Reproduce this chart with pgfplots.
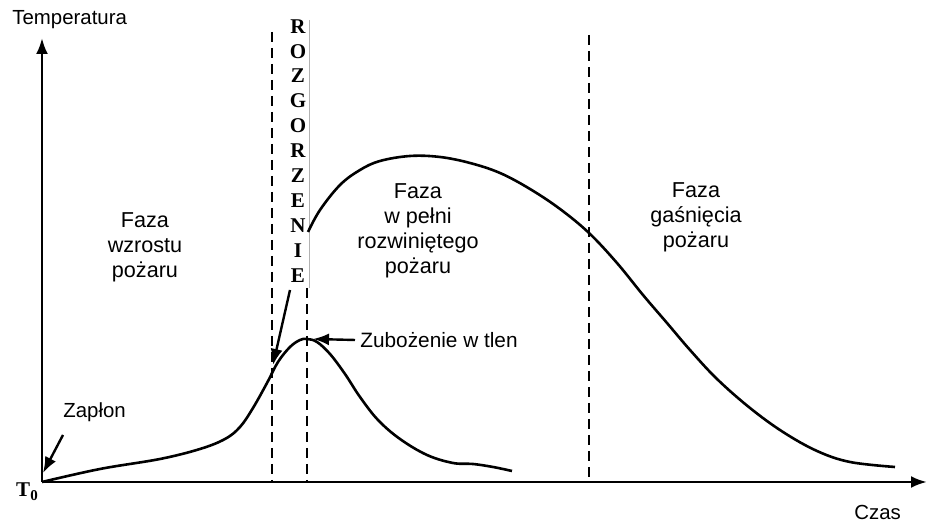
\documentclass[border=0pt]{standalone}
\usepackage{fontspec}
\setmainfont{Liberation Sans}
\newfontfamily\timesfont{Liberation Serif}
\usepackage{pgfplots}
\pgfplotsset{compat=1.18}
\usetikzlibrary{arrows.meta}

\begin{document}
\begin{tikzpicture}
\begin{axis}[
  scale only axis, width=464pt, height=261pt,
  xmin=0, xmax=928, ymin=0, ymax=522,
  hide axis, clip=false,
]
\coordinate (sw) at (axis cs:0,0);
\coordinate (ne) at (axis cs:928,522);

% time and temperature axes
\draw[line width=1.4pt, -{Latex[length=8pt,width=6pt]}] (axis cs:42,40) -- (axis cs:42,484);
\draw[line width=1.4pt, -{Latex[length=8pt,width=6pt]}] (axis cs:42,40) -- (axis cs:927,40);

% phase boundaries
\draw[line width=1pt, dash pattern=on 5pt off 3pt] (axis cs:272,490) -- (axis cs:272,40);
\draw[line width=1pt, dash pattern=on 5pt off 3pt] (axis cs:307,234) -- (axis cs:307,40);
\draw[line width=1pt, dash pattern=on 5pt off 3pt] (axis cs:589,487) -- (axis cs:589,40);
\draw[gray!60, line width=0.3pt] (axis cs:309,502) -- (axis cs:309,234);

% growth and oxygen-depletion curve
\addplot[black, line width=1.3pt, smooth, tension=0.6] coordinates {
  (42,40) (100,53) (160,63) (200,73) (225,83) (240,95) (253,114) (267,139)
  (278,160) (290,175) (300,182) (307,183) (317,180) (330,168) (345,148)
  (360,125) (378,102) (400,83) (427,67) (453,59) (473,58) (493,55) (512,51)
};

% fully developed fire and decay curve
\addplot[black, line width=1.3pt, smooth, tension=0.6] coordinates {
  (308,290) (320,312) (340,337) (360,352) (380,361) (410,366) (440,365)
  (470,359) (500,349) (530,333) (560,313) (589,289) (617,259) (643,227)
  (667,199) (690,172) (717,143) (750,114) (783,90) (817,71) (850,60) (895,55)
};

% pointers
\draw[line width=1.2pt, -{Latex[length=8pt,width=6pt]}] (axis cs:290,232) -- (axis cs:273,157);
\draw[line width=1.2pt, -{Latex[length=8pt,width=6pt]}] (axis cs:355,182) -- (axis cs:313,183);
\draw[line width=1.2pt, -{Latex[length=8pt,width=6pt]}] (axis cs:63,87) -- (axis cs:43,49);

% labels
\node[anchor=west, inner sep=0pt, font=\fontsize{10.2}{12}\selectfont] at (axis cs:12,502) {Temperatura};
\node[anchor=west, inner sep=0pt, font=\fontsize{10.2}{12}\selectfont] at (axis cs:854,10) {Czas};
\node[anchor=west, inner sep=0pt, font=\fontsize{10.2}{12}\selectfont] at (axis cs:63,110) {Zapłon};
\node[anchor=west, inner sep=0pt, font=\fontsize{10.4}{12}\selectfont] at (axis cs:360,182) {Zubożenie w tlen};
\node[align=center, font=\fontsize{10.8}{12.5}\selectfont] at (axis cs:145,275) {Faza\\wzrostu\\pożaru};
\node[align=center, font=\fontsize{10.8}{12.5}\selectfont] at (axis cs:418,291) {Faza\\w pełni\\rozwiniętego\\pożaru};
\node[align=center, font=\fontsize{10.8}{12.5}\selectfont] at (axis cs:696,305) {Faza\\gaśnięcia\\pożaru};
\node[font=\timesfont\bfseries\fontsize{10.5}{12}\selectfont] at (axis cs:27,30) {T\raisebox{-0.45ex}{\fontsize{7.5}{8}\selectfont 0}};

% ROZGORZENIE, letter by letter
\node[font=\timesfont\bfseries\fontsize{10.5}{12}\selectfont] at (axis cs:298,495) {R};
\node[font=\timesfont\bfseries\fontsize{10.5}{12}\selectfont] at (axis cs:298,470) {O};
\node[font=\timesfont\bfseries\fontsize{10.5}{12}\selectfont] at (axis cs:298,446) {Z};
\node[font=\timesfont\bfseries\fontsize{10.5}{12}\selectfont] at (axis cs:298,421) {G};
\node[font=\timesfont\bfseries\fontsize{10.5}{12}\selectfont] at (axis cs:298,396) {O};
\node[font=\timesfont\bfseries\fontsize{10.5}{12}\selectfont] at (axis cs:298,371) {R};
\node[font=\timesfont\bfseries\fontsize{10.5}{12}\selectfont] at (axis cs:298,346) {Z};
\node[font=\timesfont\bfseries\fontsize{10.5}{12}\selectfont] at (axis cs:298,321) {E};
\node[font=\timesfont\bfseries\fontsize{10.5}{12}\selectfont] at (axis cs:298,296) {N};
\node[font=\timesfont\bfseries\fontsize{10.5}{12}\selectfont] at (axis cs:298,271) {I};
\node[font=\timesfont\bfseries\fontsize{10.5}{12}\selectfont] at (axis cs:298,246) {E};
\end{axis}
\pgfresetboundingbox
\useasboundingbox (sw) rectangle (ne);
\end{tikzpicture}
\end{document}
